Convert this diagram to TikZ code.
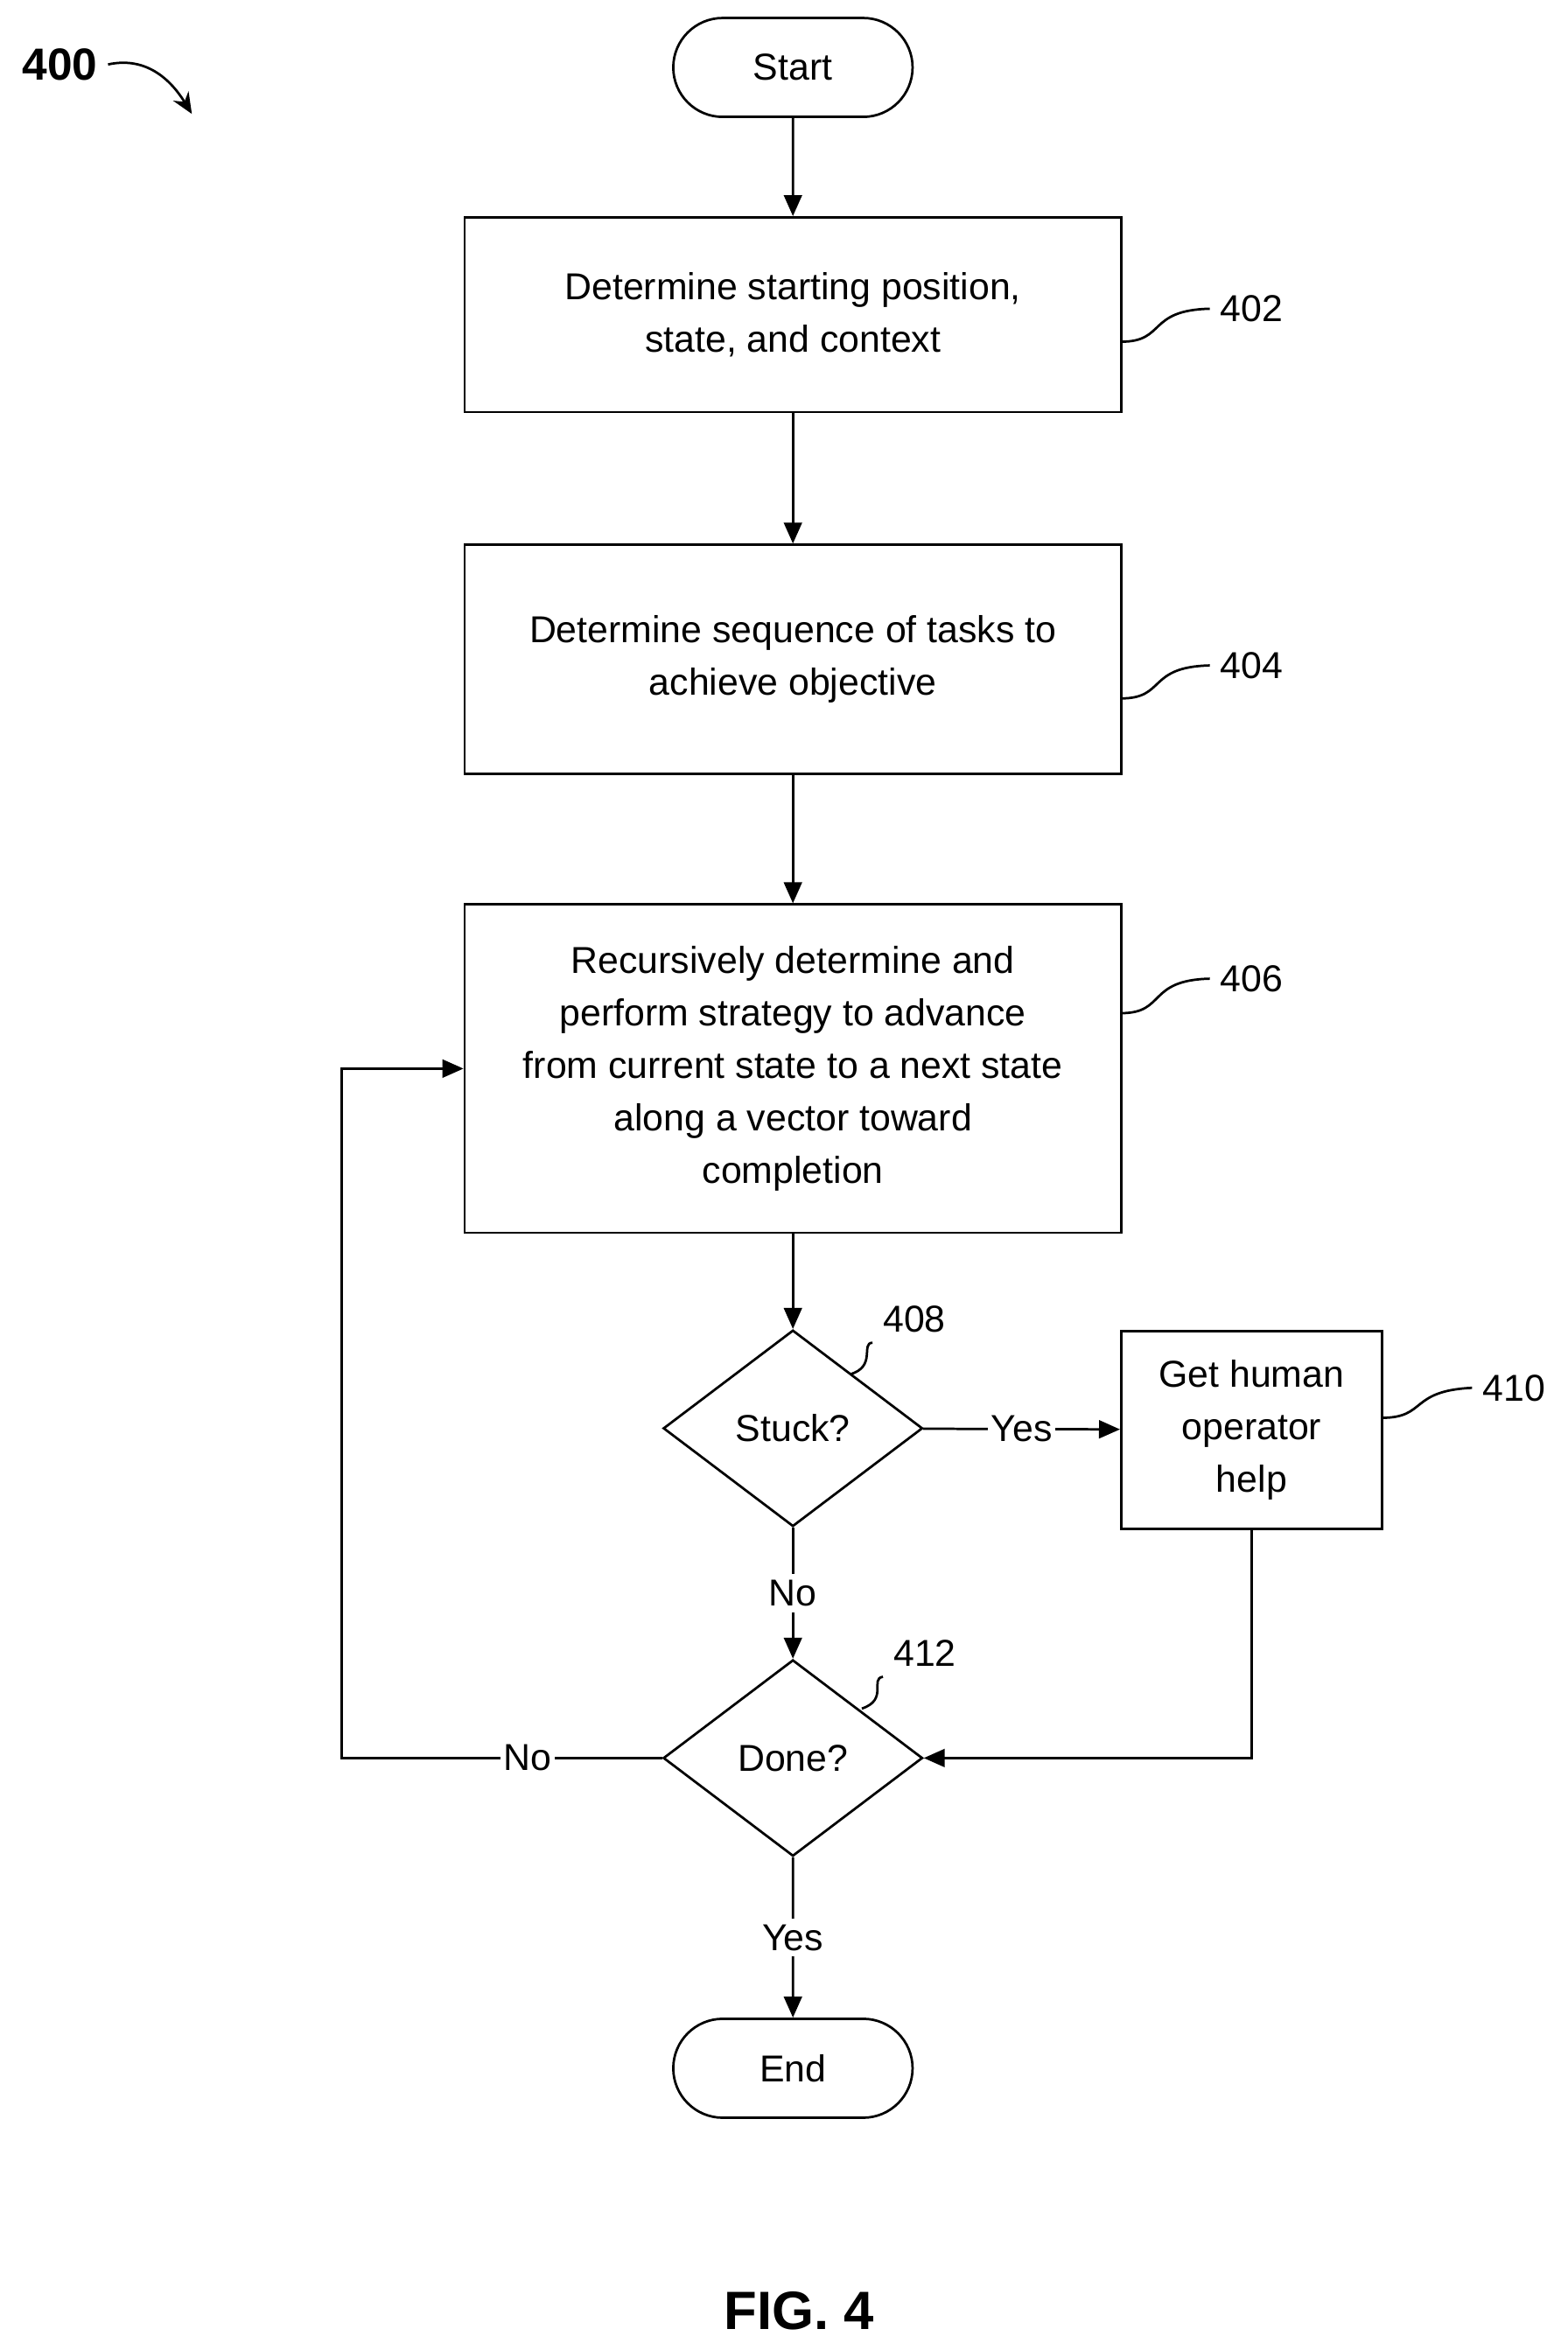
\documentclass[tikz,border=0pt]{standalone}
\usepackage{fontspec}
\setmainfont{Liberation Sans}
\usetikzlibrary{shapes.geometric, shapes.misc, arrows.meta, positioning}
\tikzset{
  >={Triangle[length=7pt,width=6pt]}, % filled arrow heads
  every node/.style={font=\fontsize{12.5}{17.5}\selectfont}, % text size
  taskbox/.style={draw, thick, align=center, minimum width=219pt, inner sep=0pt}, % process boxes
  termbox/.style={draw, thick, rounded rectangle, minimum width=86.5pt, minimum height=33pt}, % start and end
  decidebox/.style={draw, thick, diamond, aspect=1.32, minimum width=86.5pt, minimum height=65.5pt, inner sep=0pt}, % decisions
  flowline/.style={thick, ->}, % connectors
  leader/.style={thick}, % reference number leaders
}
\begin{document}
\begin{tikzpicture}[x=0.5pt, y=-0.5pt]
  \useasboundingbox (0,0) rectangle (1046,1568);
  \node[termbox] (start) at (529,45) {Start};
  \node[taskbox, minimum height=65pt] (b402) at (529,210) {Determine starting position,\\state, and context};
  \node[taskbox, minimum height=76.5pt] (b404) at (529,440) {Determine sequence of tasks to\\achieve objective};
  \node[taskbox, minimum height=109.5pt] (b406) at (529,713) {Recursively determine and\\perform strategy to advance\\from current state to a next state\\along a vector toward\\completion};
  \node[decidebox] (stuck) at (529,953) {Stuck?};
  \node[taskbox, minimum width=87pt, minimum height=66pt] (b410) at (835,954) {Get human\\operator\\help};
  \node[decidebox] (done) at (529,1173) {Done?};
  \node[termbox] (end) at (529,1380) {End};
  \coordinate (loopa) at (228,1173);
  \coordinate (loopb) at (228,713);
  \coordinate (side) at (835,1173);

  \draw[flowline] (start) -- (b402);
  \draw[flowline] (b402) -- (b404);
  \draw[flowline] (b404) -- (b406);
  \draw[flowline] (b406) -- (stuck);
  \draw[flowline] (stuck) -- node[fill=white, inner sep=1pt]{Yes} (b410);
  \draw[flowline] (stuck) -- node[fill=white, inner sep=2pt]{No} (done);
  \draw[flowline] (b410.south) -- (side) -- (done.east);
  \draw[flowline] (done.west) -- node[fill=white, inner sep=1pt, pos=0.42]{No} (loopa) -- (loopb) -- (b406.west);
  \draw[flowline] (done) -- node[fill=white, inner sep=2pt]{Yes} (end);

  % reference numbers
  \node (n402) at (835,206) {402};
  \node (n404) at (835,444) {404};
  \node (n406) at (835,653) {406};
  \node (n408) at (610,880) {408};
  \node (n410) at (1010,926) {410};
  \node (n412) at (617,1103) {412};
  \draw[leader] (748,228) .. controls (778,228) and (765,207) .. (n402.west);
  \draw[leader] (748,466) .. controls (778,466) and (765,445) .. (n404.west);
  \draw[leader] (748,676) .. controls (778,676) and (765,654) .. (n406.west);
  \draw[leader] (567,917) .. controls (585,912) and (574,896) .. (n408.south west);
  \draw[leader] (922,946) .. controls (952,946) and (940,928) .. (n410.west);
  \draw[leader] (575,1140) .. controls (593,1134) and (580,1120) .. (n412.south west);

  \node[font=\fontsize{15}{18}\selectfont\bfseries] (fig) at (40,43) {400};
  \draw[thick, -{Stealth[length=7pt,width=6pt]}] (fig.east) .. controls (95,38) and (112,50) .. (128,76);
  \node[font=\fontsize{18}{22}\selectfont\bfseries] (caption) at (533,1542) {FIG. 4};
\end{tikzpicture}
\end{document}
